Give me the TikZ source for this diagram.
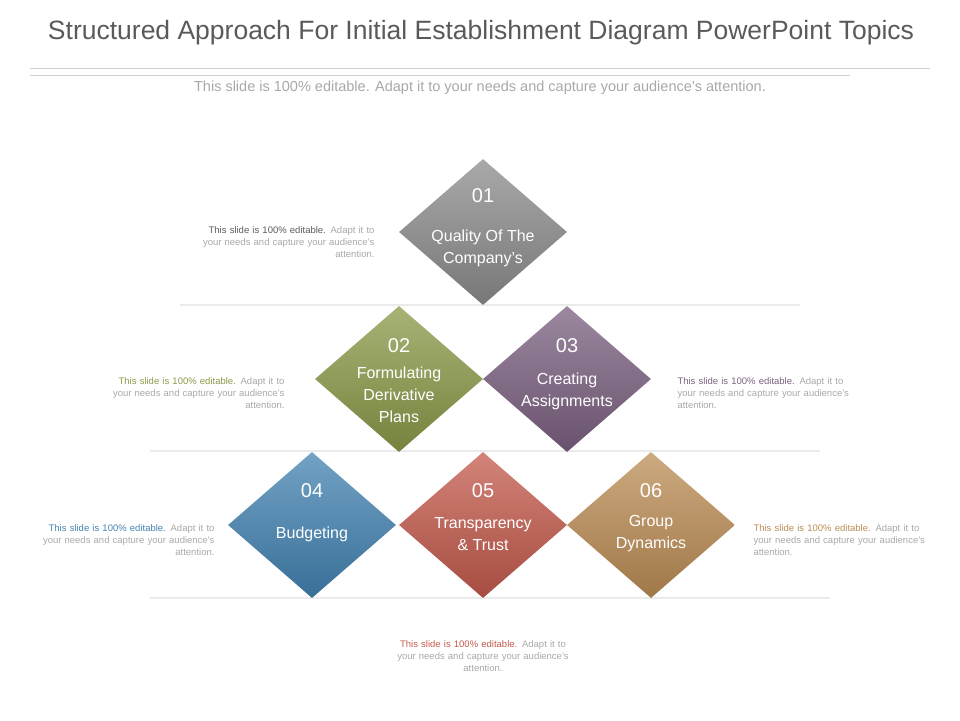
\documentclass[tikz,border=0pt]{standalone}
\usepackage{fontspec}
\setmainfont{Liberation Sans}
\usetikzlibrary{shapes.geometric}
\definecolor{titlegray}{HTML}{5A5A5A}
\definecolor{lightgray}{HTML}{A8A8A8}
\definecolor{cgray}{HTML}{8C8C8C}
\definecolor{cgreen}{HTML}{8A9A48}
\definecolor{cpurple}{HTML}{7B6080}
\definecolor{cblue}{HTML}{4383B2}
\definecolor{cred}{HTML}{C45A4C}
\definecolor{ctan}{HTML}{BC8D55}
\tikzset{
  tile/.style={diamond,aspect=1.15,minimum width=168pt,minimum height=146pt,inner sep=0pt,
    top color=#1!75!white,bottom color=#1!85!black,draw=none},
  num/.style={text=white,font=\fontsize{20}{22}\selectfont},
  lbl/.style={text=white,font=\fontsize{16}{22}\selectfont,align=center},
  shelf/.style={line width=2.5pt,draw=black!8},
  note/.style={font=\fontsize{9.5}{12}\selectfont,text=lightgray,text width=212pt,align=#1}
}
\newcommand{\notetext}[1]{\textcolor{#1}{This slide is 100\% editable.} Adapt it to\\your needs and capture your audience's\\attention.}
\begin{document}
\begin{tikzpicture}[x=1pt,y=-1pt]
\useasboundingbox (0,0) rectangle (960,720);
% header
\node[text=titlegray,font=\fontsize{26.5}{30}\selectfont] (title) at (481,33) {Structured Approach For Initial Establishment Diagram PowerPoint Topics};
\draw[black!20] (30,68) -- (930,68);
\draw[black!20] (30,75) -- (850,75);
\node[text=lightgray,font=\fontsize{14.5}{16}\selectfont] (sub) at (480,88) {This slide is 100\% editable. Adapt it to your needs and capture your audience's attention.};

% shelves
\draw[shelf] (180,305) -- (800,305);
\draw[shelf] (150,451) -- (820,451);
\draw[shelf] (150,598) -- (830,598);

% tiles
\node[tile=cgray]   (t1) at (483,232) {};
\node[tile=cgreen]  (t2) at (399,379) {};
\node[tile=cpurple] (t3) at (567,379) {};
\node[tile=cblue]   (t4) at (312,525) {};
\node[tile=cred]    (t5) at (483,525) {};
\node[tile=ctan]    (t6) at (651,525) {};

\node[num] (n1) at (483,196) {01};
\node[lbl] (l1) at (483,248) {Quality Of The\\Company's};
\node[num] (n2) at (399,346) {02};
\node[lbl] (l2) at (399,395) {Formulating\\Derivative\\Plans};
\node[num] (n3) at (567,346) {03};
\node[lbl] (l3) at (567,391) {Creating\\Assignments};
\node[num] (n4) at (312,491) {04};
\node[lbl] (l4) at (312,534) {Budgeting};
\node[num] (n5) at (483,491) {05};
\node[lbl] (l5) at (483,534) {Transparency\\\& Trust};
\node[num] (n6) at (651,491) {06};
\node[lbl] (l6) at (651,534) {Group\\Dynamics};

% notes
\node[note=right,anchor=east] (d1) at (378,242) {\notetext{titlegray}};
\node[note=right,anchor=east] (d2) at (288,393) {\notetext{cgreen}};
\node[note=left,anchor=west] (d3) at (674,393) {\notetext{cpurple}};
\node[note=right,anchor=east] (d4) at (218,540) {\notetext{cblue}};
\node[note=left,anchor=west] (d6) at (750,540) {\notetext{ctan}};
\node[note=center] (d5) at (483,656) {\notetext{cred}};
\end{tikzpicture}
\end{document}
